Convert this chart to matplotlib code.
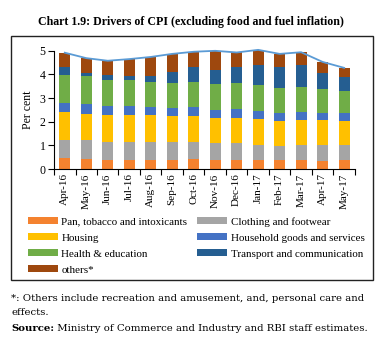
import numpy as np
import matplotlib
matplotlib.use("Agg")
import matplotlib.pyplot as plt
from matplotlib.patches import Rectangle

plt.rcParams["font.family"] = ["Liberation Serif", "DejaVu Serif"]

months = ["Apr-16", "May-16", "Jun-16", "Jul-16", "Aug-16", "Sep-16", "Oct-16",
          "Nov-16", "Dec-16", "Jan-17", "Feb-17", "Mar-17", "Apr-17", "May-17"]

pan = [0.47, 0.42, 0.40, 0.38, 0.38, 0.38, 0.42, 0.40, 0.40, 0.40, 0.38, 0.38, 0.33, 0.38]
clothing = [0.78, 0.79, 0.73, 0.75, 0.75, 0.75, 0.74, 0.69, 0.69, 0.64, 0.61, 0.66, 0.67, 0.62]
housing = [1.16, 1.12, 1.15, 1.15, 1.15, 1.11, 1.08, 1.08, 1.08, 1.09, 1.06, 1.05, 1.09, 1.05]
household = [0.39, 0.41, 0.38, 0.38, 0.34, 0.34, 0.38, 0.34, 0.38, 0.34, 0.33, 0.33, 0.29, 0.33]
health = [1.16, 1.19, 1.09, 1.09, 1.08, 1.07, 1.08, 1.08, 1.10, 1.08, 1.05, 1.05, 0.99, 0.92]
transport = [0.34, 0.14, 0.22, 0.18, 0.23, 0.47, 0.60, 0.62, 0.65, 0.86, 0.87, 0.94, 0.68, 0.59]
others = [0.62, 0.62, 0.61, 0.72, 0.81, 0.75, 0.66, 0.79, 0.63, 0.63, 0.57, 0.53, 0.48, 0.39]

series = [
    ("Pan, tobacco and intoxicants", pan, "#F4822F"),
    ("Clothing and footwear", clothing, "#A5A5A5"),
    ("Housing", housing, "#FFC000"),
    ("Household goods and services", household, "#4472C4"),
    ("Health & education", health, "#70AD47"),
    ("Transport and communication", transport, "#255E91"),
    ("others*", others, "#9E480E"),
]

fig = plt.figure(figsize=(3.82, 3.48), dpi=100)
ax = fig.add_axes([0.1414, 0.514, 0.7876, 0.340])

x = np.arange(len(months))
bottom = np.zeros(len(months))
handles = {}
for label, vals, color in series:
    bars = ax.bar(x, vals, 0.5, bottom=bottom, color=color, label=label,
                  linewidth=0, clip_on=False, zorder=2)
    handles[label] = bars
    bottom += np.array(vals)

# headline core CPI as the sum of the components
ax.plot(x, bottom, color="#5B9BD5", linewidth=1.3, clip_on=False, zorder=3)

ax.set_xlim(-0.5, len(months) - 0.5)
ax.set_ylim(0, 5)
ax.set_yticks(range(6))
ax.set_xticks(x)
ax.set_xticklabels(months, rotation=90, fontsize=8)
ax.set_xticks(np.arange(-0.5, len(months)), minor=True)
ax.tick_params(axis="x", which="major", length=0, pad=3)
ax.tick_params(axis="x", which="minor", length=4, width=0.8)
ax.tick_params(axis="y", length=4, width=0.8, labelsize=8.5, pad=2)
for side in ("top", "right"):
    ax.spines[side].set_visible(False)
ax.spines["left"].set_linewidth(0.8)
ax.spines["bottom"].set_linewidth(0.8)
ax.set_ylabel("Per cent", fontsize=8.5, labelpad=4)

# legend in two columns, filled column by column
order = ["Pan, tobacco and intoxicants", "Housing", "Health & education", "others*",
         "Clothing and footwear", "Household goods and services",
         "Transport and communication"]
leg = fig.legend([handles[k] for k in order], order, ncol=2, frameon=False,
                 prop={"family": "Liberation Serif", "size": 7.9},
                 loc="upper left", bbox_to_anchor=(0.073, 0.377),
                 handlelength=2.73, handleheight=0.64, handletextpad=0.32,
                 columnspacing=0.9, labelspacing=0.6, borderpad=0, borderaxespad=0)

# outer frame around the chart body
fig.patches.append(Rectangle((0.028, 0.195), 0.948, 0.702, transform=fig.transFigure,
                             fill=False, edgecolor="#222222", linewidth=1.0))

fig.text(0.5, 0.937, "Chart 1.9: Drivers of CPI (excluding food and fuel inflation)",
         ha="center", va="center", fontsize=8.6, fontweight="bold")

note = {"family": "DejaVu Serif", "size": 7.3}
fig.text(0.029, 0.143, "*: Others include recreation and amusement, and, personal care and",
         ha="left", va="center", **note)
fig.text(0.029, 0.103, "effects.", ha="left", va="center", **note)
src = fig.text(0.029, 0.055, "Source:", ha="left", va="center",
               fontweight="bold", **note)
rest = fig.text(0, 0.055, " Ministry of Commerce and Industry and RBI staff estimates.",
                ha="left", va="center", **note)
fig.canvas.draw()
bb = src.get_window_extent().transformed(fig.transFigure.inverted())
rest.set_x(bb.x1)

fig.savefig("out.png", dpi=100)
